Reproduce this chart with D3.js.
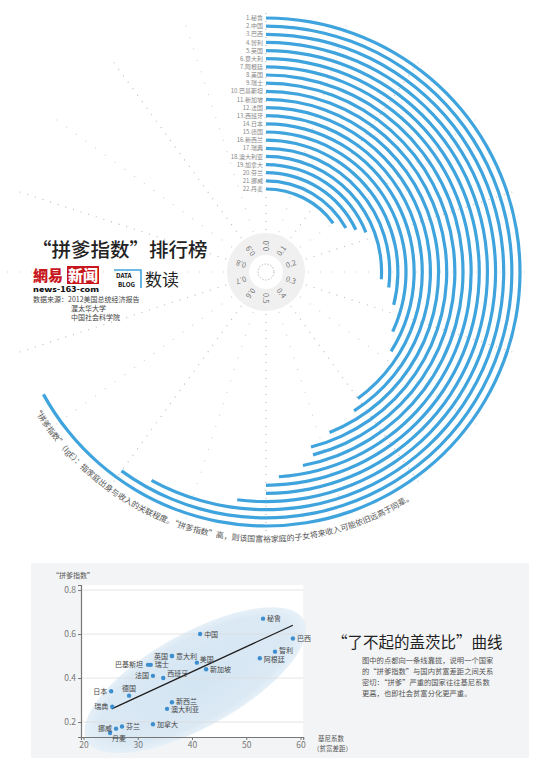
<!DOCTYPE html>
<html><head><meta charset="utf-8">
<script src="https://cdn.jsdelivr.net/npm/d3@7"></script>
<style>
html,body{margin:0;padding:0;background:#fff;}
svg{display:block;font-family:"Noto Sans CJK SC","Noto Sans",sans-serif;}
</style></head>
<body>
<svg id="c" width="550" height="784"></svg>
<script>
// ---------- DATA ----------
const countries = ["秘鲁","中国","巴西","智利","英国","意大利","阿根廷","美国","瑞士","巴基斯坦","新加坡","法国","西班牙","日本","德国","新西兰","瑞典","澳大利亚","加拿大","芬兰","挪威","丹麦"];
const ige = [0.67,0.60,0.58,0.52,0.50,0.50,0.49,0.47,0.46,0.46,0.44,0.41,0.40,0.34,0.32,0.29,0.27,0.26,0.19,0.18,0.17,0.15];
const gini = [53.1,41.5,58.6,55.3,36.3,36.3,52.5,40.9,32.4,31.9,42.6,32.8,34.7,25.1,28.4,36.3,25.3,35.4,32.8,27.1,26.0,24.9];
const radialTicks = [0,0.1,0.2,0.3,0.4,0.5,0.6,0.7,0.8,0.9];
const xTicks = [20,30,40,50,60];
const yTicks = [0.2,0.4,0.6,0.8];
const trendX = [25.2, 58.6];
const trendY = [0.26, 0.64];
const ellipseX = [20.6, 60.6];   // long-axis tips (gini)
const ellipseY = [0.115, 0.665]; // long-axis tips (ige)

const svg = d3.select("#c");
const F = '"Noto Sans CJK SC","Noto Sans",sans-serif';

// ---------- RADIAL CHART ----------
const cx = 266, cy = 272;
const ang = d3.scaleLinear().domain([0,1]).range([0, 2*Math.PI]);
const rad = d3.scalePoint().domain(countries).range([254, 83]);
const g = svg.append("g").attr("transform",`translate(${cx},${cy})`);

// center ring
g.append("circle").attr("r",28).attr("fill","none").attr("stroke","#f0f0f0").attr("stroke-width",22);
g.append("circle").attr("r",8).attr("fill","none").attr("stroke","#aaa").attr("stroke-width",0.8).attr("stroke-dasharray","1.5,1.5");

// dotted radial guides every 0.05
const guides = d3.range(0,1,0.05);
g.selectAll("line.guide").data(guides).join("line")
  .attr("x1",d=>42*Math.sin(ang(d))).attr("y1",d=>-42*Math.cos(ang(d)))
  .attr("x2",d=>262*Math.sin(ang(d))).attr("y2",d=>-262*Math.cos(ang(d)))
  .attr("stroke","#9a9a9a").attr("stroke-width",1.1)
  .attr("stroke-dasharray",(d,i)=> i%2===0 ? "1,7" : "1,11")
  .attr("opacity",(d,i)=> i%2===0 ? 0.7 : 0.45);

// radial tick labels
g.selectAll("text.rt").data(radialTicks).join("text")
  .attr("transform",d=>`rotate(${ang(d)*180/Math.PI-90}) translate(21,0)`)
  .attr("dy","0.35em").attr("font-size",7.5).attr("fill","#777")
  .text(d3.format(".1f"));

// arcs
const arcGen = d3.arc();
g.selectAll("path.bar").data(countries).join("path")
  .attr("d",(d,i)=>arcGen({innerRadius:rad(d)-1.6, outerRadius:rad(d)+1.6, startAngle:0, endAngle:ang(ige[i])}))
  .attr("fill","#3fa4dd");

// rank labels
g.selectAll("text.rank").data(countries).join("text")
  .attr("x",-3).attr("y",d=>-rad(d)).attr("dy","0.35em")
  .attr("text-anchor","end").attr("font-size",6).attr("fill","#888")
  .text((d,i)=>`${i+1}.${d}`);

// curved description text
const tr = 270, a1 = 239.5*Math.PI/180, a2 = 140*Math.PI/180;
const p1 = [tr*Math.sin(a1), -tr*Math.cos(a1)], p2 = [tr*Math.sin(a2), -tr*Math.cos(a2)];
g.append("path").attr("id","tp").attr("fill","none")
  .attr("d",`M${p1[0]},${p1[1]} A${tr},${tr} 0 0 0 ${p2[0]},${p2[1]}`);
g.append("text").attr("font-size",8).attr("fill","#555")
  .append("textPath").attr("href","#tp").attr("startOffset",0)
  .attr("textLength",436).attr("lengthAdjust","spacing")
  .text("“拼爹指数”（IgE）：指家庭出身与收入的关联程度。“拼爹指数”高，则该国富裕家庭的子女将来收入可能依旧远高于同辈。");

// ---------- TITLE / LOGO ----------
svg.append("text").attr("x",32).attr("y",257).attr("font-size",19.5).attr("font-weight",500).attr("fill","#222")
  .text("“拼爹指数”排行榜");
svg.append("text").attr("x",33).attr("y",281).attr("font-size",15).attr("font-weight",900).attr("fill","#c8161d").text("網易");
svg.append("rect").attr("x",67).attr("y",266).attr("width",32).attr("height",18).attr("fill","#c8161d");
svg.append("text").attr("x",68).attr("y",281).attr("font-size",15).attr("font-weight",900).attr("fill","#fff").text("新闻");
svg.append("text").attr("x",33).attr("y",292).attr("font-size",7).attr("font-weight",900).attr("fill","#111")
  .attr("textLength",66).attr("lengthAdjust","spacingAndGlyphs").text("news-163-com");
svg.append("path").attr("d","M114,270 H141 V288").attr("fill","none").attr("stroke","#3fa4dd").attr("stroke-width",1.6);
svg.append("text").attr("x",116).attr("y",278).attr("font-size",6.3).attr("font-weight",700).attr("fill","#111").text("DATA");
svg.append("text").attr("x",118).attr("y",286.5).attr("font-size",6.3).attr("font-weight",700).attr("fill","#111").text("BLOG");
svg.append("text").attr("x",145).attr("y",286).attr("font-size",17).attr("fill","#222").text("数读");
const src = svg.append("g").attr("font-size",7).attr("fill","#444");
src.append("text").attr("x",33).attr("y",302).text("数据来源：2012美国总统经济报告");
src.append("text").attr("x",71).attr("y",311).text("渥太华大学");
src.append("text").attr("x",71).attr("y",320).text("中国社会科学院");

// ---------- SCATTER ----------
svg.append("rect").attr("x",31).attr("y",563).attr("width",498).attr("height",195).attr("fill","#f3f4f5");
const x = d3.scaleLinear().domain([19.54,60.5]).range([81,303.2]);
const y = d3.scaleLinear().domain([0.132,0.823]).range([737,585]);
svg.append("rect").attr("x",x.range()[0]).attr("y",y.range()[1]).attr("width",x.range()[1]-x.range()[0]).attr("height",y.range()[0]-y.range()[1]).attr("fill","#fff");

// ellipse
const e1 = [x(ellipseX[0]),y(ellipseY[0])], e2=[x(ellipseX[1]),y(ellipseY[1])];
const ecx=(e1[0]+e2[0])/2, ecy=(e1[1]+e2[1])/2, erx=Math.hypot(e2[0]-e1[0],e2[1]-e1[1])/2;
const erot = Math.atan2(e2[1]-e1[1],e2[0]-e1[0])*180/Math.PI;
const defs = svg.append("defs");
const rg = defs.append("radialGradient").attr("id","eg");
rg.append("stop").attr("offset","0%").attr("stop-color","#d3e5f2");
rg.append("stop").attr("offset","85%").attr("stop-color","#dbe9f4");
rg.append("stop").attr("offset","100%").attr("stop-color","#e6f0f8");
svg.append("ellipse").attr("cx",0).attr("cy",0).attr("rx",erx).attr("ry",47)
  .attr("transform",`translate(${ecx},${ecy}) rotate(${erot})`).attr("fill","url(#eg)");

// grid
svg.selectAll("line.grid").data(yTicks).join("line")
  .attr("x1",x.range()[0]).attr("x2",x.range()[1]).attr("y1",d=>y(d)).attr("y2",d=>y(d))
  .attr("stroke","#dcdcdc").attr("stroke-width",0.8);

// axes
const ya = svg.append("g").attr("transform",`translate(${x.range()[0]},0)`)
  .call(d3.axisLeft(y).tickValues(yTicks).tickFormat(d3.format(".1f")).tickSize(3).tickPadding(2));
const xa = svg.append("g").attr("transform",`translate(0,${y.range()[0]})`)
  .call(d3.axisBottom(x).tickValues(xTicks).tickSize(3).tickPadding(2));
[ya,xa].forEach(a=>{
  a.select(".domain").attr("stroke","#777").attr("stroke-width",1.2);
  a.selectAll(".tick line").attr("stroke","#777");
  a.selectAll("text").attr("font-family",F).attr("font-size",8.5).attr("fill","#777");
});
svg.append("text").attr("x",52).attr("y",578).attr("font-size",7).attr("fill","#555").text("“拼爹指数”");
svg.append("text").attr("x",318).attr("y",741).attr("font-size",6.5).attr("fill","#555").text("基尼系数");
svg.append("text").attr("x",313).attr("y",751).attr("font-size",6.5).attr("fill","#555").text("（贫富差距）");

// trend line
svg.append("line").attr("x1",x(trendX[0])).attr("y1",y(trendY[0])).attr("x2",x(trendX[1])).attr("y2",y(trendY[1]))
  .attr("stroke","#1d1d1d").attr("stroke-width",1.2);

// points
const pts = countries.map((c,i)=>({c, gx:gini[i], iy:ige[i]}));
svg.selectAll("circle.pt").data(pts).join("circle")
  .attr("cx",d=>x(d.gx)).attr("cy",d=>y(d.iy)).attr("r",2.2).attr("fill","#3d8fcf");
const place = {
 "秘鲁":[4,0,"start"],"中国":[4,0,"start"],"巴西":[4,0,"start"],"智利":[4,-1,"start"],"阿根廷":[4,1,"start"],
 "英国":[-4,0,"end"],"意大利":[4,0,"start"],"美国":[3,-3,"start"],"新加坡":[4,0,"start"],"巴基斯坦":[-5,0,"end"],
 "瑞士":[4,0,"start"],"法国":[-4,0,"end"],"西班牙":[4,-4,"start"],"日本":[-4,0,"end"],"德国":[0,-7,"middle"],
 "瑞典":[-4,0,"end"],"新西兰":[4,-1,"start"],"澳大利亚":[4,1,"start"],"挪威":[-4,0,"end"],"芬兰":[4,0,"start"],
 "丹麦":[2,6,"start"],"加拿大":[4,0,"start"]};
svg.selectAll("text.pl").data(pts).join("text")
  .attr("x",d=>x(d.gx)+place[d.c][0]).attr("y",d=>y(d.iy)+place[d.c][1]).attr("dy","0.35em")
  .attr("text-anchor",d=>place[d.c][2]).attr("font-size",7).attr("fill","#444").text(d=>d.c);

// right description
svg.append("text").attr("x",332).attr("y",648).attr("font-size",15.5).attr("fill","#222").text("“了不起的盖茨比”曲线");
const para = ["图中的点都向一条线靠拢，说明一个国家","的“拼爹指数”与国内贫富差距之间关系","密切：“拼爹”严重的国家往往基尼系数","更高，也即社会贫富分化更严重。"];
svg.selectAll("text.para").data(para).join("text")
  .attr("x",362).attr("y",(d,i)=>663+i*11).attr("font-size",7.3).attr("fill","#555").text(d=>d);
</script>
</body></html>
